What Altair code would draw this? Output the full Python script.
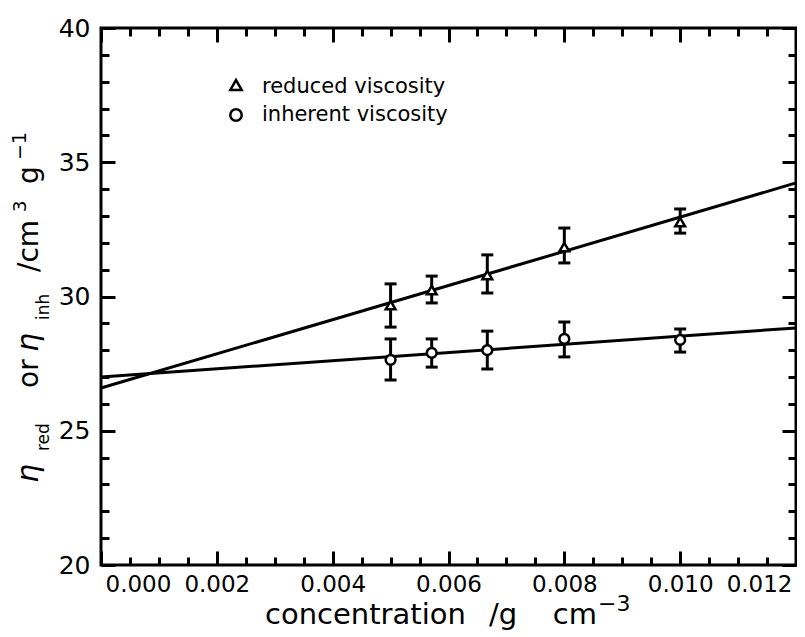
import altair as alt
import pandas as pd

# ---- data ----
conc = [0.005, 0.00571, 0.00667, 0.008, 0.010]
red_val = [29.68, 30.24, 30.80, 31.84, 32.77]
red_lo = [28.86, 29.76, 30.13, 31.25, 32.36]
red_hi = [30.47, 30.76, 31.55, 32.55, 33.26]
inh_val = [27.64, 27.90, 28.00, 28.42, 28.38]
inh_lo = [26.89, 27.37, 27.30, 27.75, 27.93]
inh_hi = [28.42, 28.42, 28.71, 29.05, 28.79]
fit_x = [0.0, 0.012]
red_fit = [26.59, 34.23]
inh_fit = [27.00, 28.83]
series_names = ["reduced viscosity", "inherent viscosity"]
series_shapes = ["triangle-up", "circle"]
x_major = [0.000, 0.002, 0.004, 0.006, 0.008, 0.010, 0.012]
x_minor = [0.0005, 0.0010, 0.0015, 0.0025, 0.0030, 0.0035, 0.0045, 0.0050, 0.0055,
           0.0065, 0.0070, 0.0075, 0.0085, 0.0090, 0.0095, 0.0105, 0.0110, 0.0115]
y_major = [20, 25, 30, 35, 40]
y_minor = [21, 22, 23, 24, 26, 27, 28, 29, 31, 32, 33, 34, 36, 37, 38, 39]

FONT = "DejaVu Sans"

pts = pd.DataFrame({
    "c": conc + conc,
    "v": red_val + inh_val,
    "lo": red_lo + inh_lo,
    "hi": red_hi + inh_hi,
    "series": [series_names[0]] * len(conc) + [series_names[1]] * len(conc),
})
fits = pd.DataFrame({
    "c": fit_x + fit_x,
    "v": red_fit + inh_fit,
    "series": [series_names[0]] * 2 + [series_names[1]] * 2,
})

xs = alt.Scale(domain=[0.0, 0.012], nice=False, zero=False)
ys = alt.Scale(domain=[20, 40], nice=False, zero=False)


def tick_axis(orient, values, size):
    return alt.Axis(orient=orient, values=values, labels=False, ticks=True,
                    tickSize=size, tickWidth=3, tickColor="black",
                    offset=-size, domain=False, grid=False, title="")


def axis_layer(xaxis, yaxis):
    return alt.Chart(fits).mark_point(size=0, strokeWidth=0).encode(
        x=alt.X("c:Q", scale=xs, axis=xaxis),
        y=alt.Y("v:Q", scale=ys, axis=yaxis),
    )


x_label_axis = alt.Axis(orient="bottom", values=x_major, format=".3f",
                        labelFontSize=23, labelFont=FONT, labelColor="black",
                        labelPadding=8, labelFlush=True, labelFlushOffset=-4,
                        ticks=False, domain=False, grid=False, title="")
y_label_axis = alt.Axis(orient="left", values=y_major, format="d",
                        labelFontSize=25, labelFont=FONT, labelColor="black",
                        labelPadding=11, labelFlush=False, ticks=False,
                        domain=False, grid=False, title="")

axes = [
    axis_layer(x_label_axis, y_label_axis),
    axis_layer(tick_axis("bottom", x_major, 14), tick_axis("left", y_major, 14)),
    axis_layer(tick_axis("bottom", x_minor, 8), tick_axis("left", y_minor, 8)),
    axis_layer(tick_axis("top", x_major, 14), tick_axis("right", y_major, 14)),
    axis_layer(tick_axis("top", x_minor, 8), tick_axis("right", y_minor, 8)),
]

lines = alt.Chart(fits).mark_line(color="black", strokeWidth=3).encode(
    x=alt.X("c:Q", scale=xs, axis=None),
    y=alt.Y("v:Q", scale=ys, axis=None),
    detail="series:N",
)

bars = alt.Chart(pts).mark_rule(color="black", strokeWidth=3).encode(
    x=alt.X("c:Q", scale=xs, axis=None),
    y=alt.Y("lo:Q", scale=ys, axis=None),
    y2="hi:Q",
)
cap_lo = alt.Chart(pts).mark_tick(orient="horizontal", size=12, thickness=3,
                                   color="black", opacity=1).encode(
    x=alt.X("c:Q", scale=xs, axis=None),
    y=alt.Y("lo:Q", scale=ys, axis=None),
)
cap_hi = alt.Chart(pts).mark_tick(orient="horizontal", size=12, thickness=3,
                                   color="black", opacity=1).encode(
    x=alt.X("c:Q", scale=xs, axis=None),
    y=alt.Y("hi:Q", scale=ys, axis=None),
)

points = alt.Chart(pts).mark_point(filled=False, fill="white", stroke="black",
                                   strokeWidth=2.5, size=95, opacity=1).encode(
    x=alt.X("c:Q", scale=xs, axis=None),
    y=alt.Y("v:Q", scale=ys, axis=None),
    shape=alt.Shape("series:N",
                    scale=alt.Scale(domain=series_names, range=series_shapes),
                    legend=None),
)

one = pd.DataFrame({"k": [0]})


def txt(text, x, y, size, angle=0, align="left", italic=False, baseline="alphabetic"):
    return alt.Chart(one).mark_text(text=text, angle=angle, align=align,
                                    baseline=baseline, font=FONT,
                                    fontSize=size, color="black",
                                    fontStyle="italic" if italic else "normal").encode(
        x=alt.value(x), y=alt.value(y))


def sym(shape, x, y):
    return alt.Chart(one).mark_point(shape=shape, filled=False, fill="white",
                                     stroke="black", strokeWidth=2.5, size=130,
                                     opacity=1).encode(
        x=alt.value(x), y=alt.value(y))


# legend (drawn in the upper left of the plot)
legend = [
    sym(series_shapes[0], 135, 57),
    txt(series_names[0], 161, 59, 21, baseline="middle"),
    sym(series_shapes[1], 135, 87),
    txt(series_names[1], 161, 87, 21, baseline="middle"),
]

# y-axis title built from pieces (sub/superscripts), reading bottom to top
ytitle = [
    txt("\u03b7", -63, 455, 30, 270, italic=True),
    txt("red", -52, 423, 17, 270),
    txt("or", -63, 360, 28, 270),
    txt("\u03b7", -63, 324, 30, 270, italic=True),
    txt("inh", -52, 292, 17, 270),
    txt("/cm", -63, 244, 28, 270),
    txt("3", -75, 184, 18, 270),
    txt("g", -63, 156, 28, 270),
    txt("\u22121", -75, 132, 19, 270),
]

# x-axis title with superscript
xtitle = [
    txt("concentration", 164, 596, 29, 0, align="left"),
    txt("/g", 388, 596, 29, 0, align="left"),
    txt("cm", 496, 596, 29, 0, align="right"),
    txt("\u22123", 497, 583, 22, 0, align="left"),
]

chart = alt.layer(*axes, lines, bars, cap_lo, cap_hi, points,
                  *legend, *ytitle, *xtitle).resolve_axis(
    x="independent", y="independent"
).properties(
    width=695, height=537,
    padding={"left": 93, "top": 20, "right": 1, "bottom": 72},
    autosize="none",
).configure_view(stroke="black", strokeWidth=3)

chart.save("out.html", embed_options={"renderer": "svg", "actions": False})
